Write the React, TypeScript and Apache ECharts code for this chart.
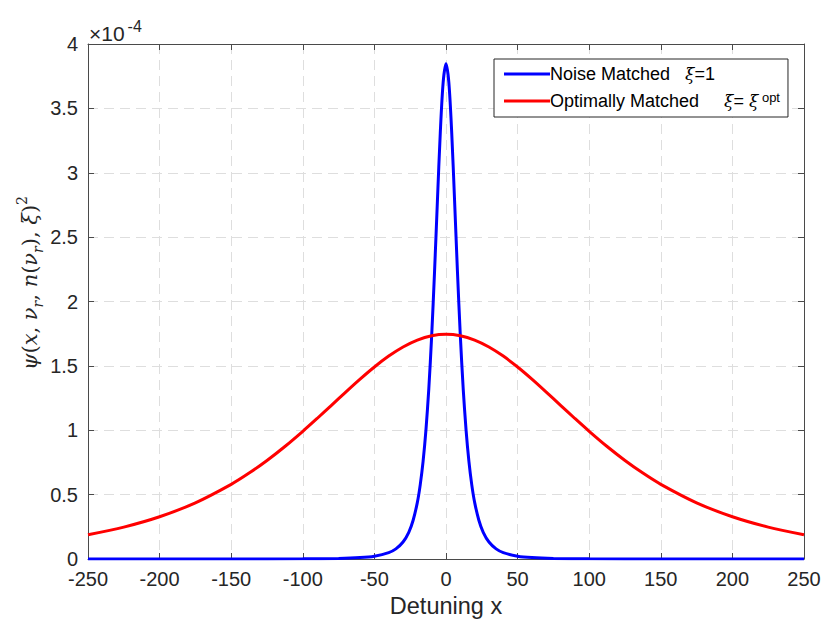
import React, { useEffect, useRef } from "react";
import * as echarts from "echarts";

// Detuning x samples and psi^2 values (in units of 1e-4)
const blueX = [-250, -200, -150, -100, -75, -60, -50, -40, -35, -30, -26, -23, -20, -18, -16, -14, -12, -10, -8, -6, -4, -2, 0,
  2, 4, 6, 8, 10, 12, 14, 16, 18, 20, 23, 26, 30, 35, 40, 50, 60, 75, 100, 150, 200, 250];
const blueY = [0.00004, 0.0001, 0.0003, 0.0015, 0.0047, 0.0111, 0.022, 0.0494, 0.0787, 0.1318, 0.2074, 0.299, 0.44, 0.576, 0.758, 1.003, 1.324, 1.735, 2.231, 2.781, 3.308, 3.70, 3.846,
  3.70, 3.308, 2.781, 2.231, 1.735, 1.324, 1.003, 0.758, 0.576, 0.44, 0.299, 0.2074, 0.1318, 0.0787, 0.0494, 0.022, 0.0111, 0.0047, 0.0015, 0.0003, 0.0001, 0.00004];

const redX = [-250, -225, -200, -175, -150, -137.5, -125, -112.5, -100, -90, -80, -70, -60, -50, -40, -30, -20, -10, 0,
  10, 20, 30, 40, 50, 60, 70, 80, 90, 100, 112.5, 125, 137.5, 150, 175, 200, 225, 250];
const redY = [0.1887, 0.2479, 0.3281, 0.4363, 0.5799, 0.6671, 0.7651, 0.8737, 0.9917, 1.0914, 1.1939, 1.2968, 1.3972, 1.4915, 1.576, 1.6468, 1.7003, 1.7337, 1.745,
  1.7337, 1.7003, 1.6468, 1.576, 1.4915, 1.3972, 1.2968, 1.1939, 1.0914, 0.9917, 0.8737, 0.7651, 0.6671, 0.5799, 0.4363, 0.3281, 0.2479, 0.1887];

const xMin = -250;
const xMax = 250;
const xStep = 50;
const yMin = 0;
const yMax = 4;
const yStep = 0.5;

const seriesNames = ["Noise Matched", "Optimally Matched"];

const AXIS = "#4a4a4a";
const TXT = "#262626";
const GRID = "#dedede";

export default function App() {
  const ref = useRef<HTMLDivElement>(null);
  useEffect(() => {
    if (!ref.current) return;
    const chart = echarts.init(ref.current, undefined, { renderer: "svg" });
    const xCommon = {
      type: "value",
      min: xMin,
      max: xMax,
      interval: xStep,
      axisLine: { show: true, onZero: false, lineStyle: { color: AXIS, width: 1 } },
      axisTick: { show: true, inside: true, length: 6, lineStyle: { color: AXIS } },
    };
    const yCommon = {
      type: "value",
      min: yMin,
      max: yMax,
      interval: yStep,
      axisLine: { show: true, onZero: false, lineStyle: { color: AXIS, width: 1 } },
      axisTick: { show: true, inside: true, length: 6, lineStyle: { color: AXIS } },
    };
    const mathRich = {
      i: { fontFamily: "DejaVu Serif", fontStyle: "italic", fontSize: 21, fill: TXT, lineHeight: 30 },
      r: { fontFamily: "DejaVu Serif", fontSize: 21, fill: TXT, lineHeight: 30 },
      s: { fontFamily: "DejaVu Serif", fontStyle: "italic", fontSize: 14, fill: TXT, verticalAlign: "bottom", lineHeight: 30 },
      p: { fontFamily: "DejaVu Serif", fontSize: 14, fill: TXT, verticalAlign: "top", lineHeight: 30 },
    };
    const option: any = {
      animation: false,
      backgroundColor: "#ffffff",
      grid: { left: 88, right: 26, top: 44, bottom: 72, containLabel: false },
      xAxis: [
        {
          ...xCommon,
          position: "bottom",
          axisLabel: { fontSize: 20, color: TXT, fontFamily: "Liberation Sans", margin: 10, formatter: (v: number) => String(v) },
          splitLine: { show: true, lineStyle: { color: GRID, type: [10, 6], width: 1 } },
          name: "Detuning x",
          nameLocation: "middle",
          nameGap: 35,
          nameTextStyle: { fontSize: 23.5, color: TXT, fontFamily: "Liberation Sans" },
        },
        {
          ...xCommon,
          position: "top",
          axisLabel: { show: false },
          splitLine: { show: false },
        },
      ],
      yAxis: [
        {
          ...yCommon,
          position: "left",
          axisLabel: { fontSize: 20, color: TXT, fontFamily: "Liberation Sans", margin: 10, formatter: (v: number) => String(v) },
          splitLine: { show: true, lineStyle: { color: GRID, type: [10, 6], width: 1 } },
        },
        {
          ...yCommon,
          position: "right",
          axisLabel: { show: false },
          splitLine: { show: false },
        },
      ],
      legend: {
        show: true,
        orient: "vertical",
        left: 494,
        top: 59,
        data: seriesNames.map((n) => ({ name: n, icon: "rect" })),
        backgroundColor: "#ffffff",
        borderColor: "#262626",
        borderWidth: 1,
        borderRadius: 0,
        padding: [5, 8, 6, 10],
        itemGap: 7,
        itemWidth: 46,
        itemHeight: 3,
        formatter: (name: string) =>
          name === seriesNames[0]
            ? "{t|Noise Matched}{t|   }{g|ξ}{t|=1}"
            : "{t|Optimally Matched}{t|     }{g|ξ}{t|= }{g|ξ}{sp| opt}",
        textStyle: {
          color: "#000",
          fontSize: 18,
          lineHeight: 20,
          padding: [0, 0, 0, -5],
          rich: {
            t: { fontFamily: "Liberation Sans", fontSize: 18, color: "#000", lineHeight: 20 },
            g: { fontFamily: "DejaVu Serif", fontStyle: "italic", fontSize: 17, color: "#000", lineHeight: 20 },
            sp: { fontFamily: "Liberation Sans", fontSize: 13, color: "#000", verticalAlign: "top", lineHeight: 20 },
          },
        },
      },
      graphic: [
        {
          type: "text",
          left: 89,
          top: 18,
          style: {
            text: "{a|×10}{b|-4}",
            rich: {
              a: { fontFamily: "Liberation Sans", fontSize: 21, fill: TXT, lineHeight: 26, verticalAlign: "bottom" },
              b: { fontFamily: "Liberation Sans", fontSize: 16, fill: TXT, lineHeight: 26, verticalAlign: "top", padding: [0, 0, 0, 3] },
            },
          },
        },
        {
          type: "text",
          x: 30,
          y: 283,
          rotation: Math.PI / 2,
          style: {
            text: "{i|ψ}{r|(}{i|x}{r|, }{i|ν}{s|r}{r|, }{i|n}{r|(}{i|ν}{s|r}{r|), }{i|ξ}{r|)}{p|2}",
            align: "center",
            verticalAlign: "middle",
            rich: mathRich,
          },
        },
      ],
      series: [
        {
          name: seriesNames[0],
          type: "line",
          xAxisIndex: 0,
          yAxisIndex: 0,
          data: blueX.map((x, i) => [x, blueY[i]]),
          symbol: "none",
          smooth: 0.3,
          lineStyle: { color: "#0000ff", width: 3 },
          itemStyle: { color: "#0000ff" },
          clip: true,
        },
        {
          name: seriesNames[1],
          type: "line",
          xAxisIndex: 0,
          yAxisIndex: 0,
          data: redX.map((x, i) => [x, redY[i]]),
          symbol: "none",
          smooth: 0.3,
          lineStyle: { color: "#ff0000", width: 3 },
          itemStyle: { color: "#ff0000" },
          clip: true,
        },
      ],
    };
    chart.setOption(option);
    return () => chart.dispose();
  }, []);
  return (
    <div
      ref={ref}
      style={{ position: "fixed", left: 0, top: 0, width: 830, height: 631, background: "#fff" }}
    />
  );
}
